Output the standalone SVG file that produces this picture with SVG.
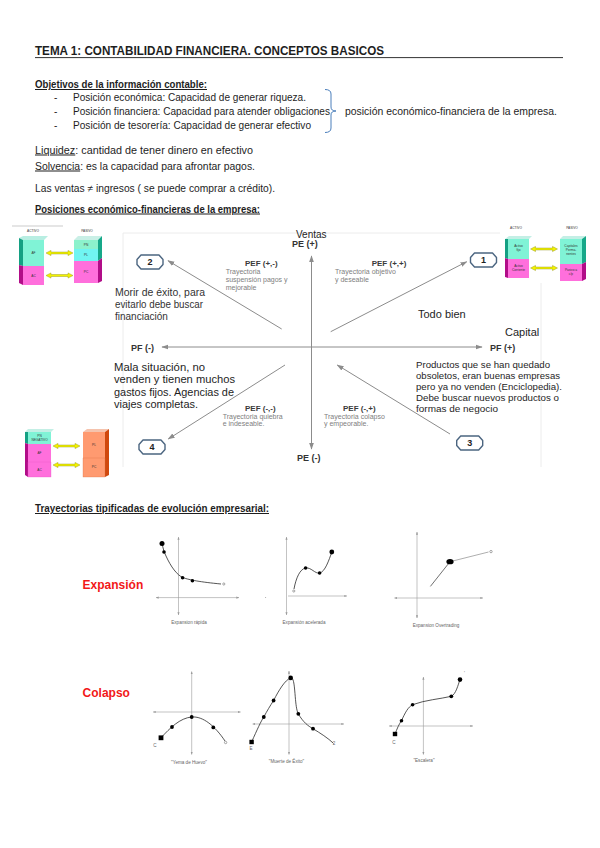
<svg xmlns="http://www.w3.org/2000/svg" width="600" height="848" viewBox="0 0 600 848">
<defs>
<style>
.t{font-family:"Liberation Sans",Arial,sans-serif;fill:#1e1e1e}
.b{font-weight:bold}
.u{text-decoration:underline}
.body{font-size:10px}
.pef{font-size:8px;font-weight:bold;fill:#3a3a3a}
.tray{font-size:7px;fill:#808080}
.ax{font-size:9px;font-weight:bold;fill:#333}
.big{font-size:10px;fill:#333}
.red{font-size:12px;font-weight:bold;fill:#f21818}
.tiny{font-size:4.6px;fill:#666;text-anchor:middle}
.mini{font-size:3.2px;fill:#333;text-anchor:middle}
.arr{stroke:#8c8c8c;stroke-width:1;fill:none}
.gax{stroke:#9a9a9a;stroke-width:0.6;fill:none}
.cur{stroke:#2a2a2a;stroke-width:0.8;fill:none}
.node{fill:#fff;stroke:#4b6580;stroke-width:1.4;stroke-linejoin:round}
.nl{font-size:9px;font-weight:bold;fill:#222;text-anchor:middle}
.ya{fill:#f2f200;stroke:#8a8a10;stroke-width:0.4}
.frame{stroke:#ececec;stroke-width:1;fill:none}
</style>
<marker id="ah" viewBox="0 0 10 10" refX="9" refY="5" markerWidth="7" markerHeight="7" orient="auto-start-reverse" markerUnits="userSpaceOnUse">
<path d="M0,1.5 L10,5 L0,8.5 Z" fill="#8c8c8c"/>
</marker>
<marker id="sh" viewBox="0 0 10 10" refX="9" refY="5" markerWidth="3" markerHeight="3" orient="auto-start-reverse" markerUnits="userSpaceOnUse">
<path d="M0,1.5 L10,5 L0,8.5 Z" fill="#9a9a9a"/>
</marker>
<path id="oct" d="M-9,-7 H9 L13,-2.5 V2.5 L9,7 H-9 L-13,2.5 V-2.5 Z"/>
<path id="yarrow" d="M0,0 L5,-2.6 V-1 H22 V-2.6 L27,0 L22,2.6 V1 H5 V2.6 Z"/>
</defs>
<rect width="600" height="848" fill="#fff"/>

<g id="header">
<text class="t b" x="35" y="55" font-size="13" textLength="349" lengthAdjust="spacingAndGlyphs">TEMA 1: CONTABILIDAD FINANCIERA. CONCEPTOS BASICOS</text>
<line x1="35" y1="57.6" x2="563" y2="57.6" stroke="#333" stroke-width="1"/>
</g>

<g id="objetivos">
<text class="t b u body" x="35" y="88" textLength="172" lengthAdjust="spacingAndGlyphs">Objetivos de la información contable:</text>
<text class="t body" x="54" y="100.5">-</text>
<text class="t body" x="54" y="114.5">-</text>
<text class="t body" x="54" y="128.5">-</text>
<text class="t body" x="73" y="100.5" textLength="233" lengthAdjust="spacingAndGlyphs">Posición económica: Capacidad de generar riqueza.</text>
<text class="t body" x="73" y="114.5" textLength="257" lengthAdjust="spacingAndGlyphs">Posición financiera: Capacidad para atender obligaciones</text>
<text class="t body" x="73" y="128.5" textLength="238" lengthAdjust="spacingAndGlyphs">Posición de tesorería: Capacidad de generar efectivo</text>
<path d="M325,89.5 Q331,89.5 331,94 V107 Q331,111 336,111 Q331,111 331,115 V128 Q331,132.5 325,132.5" fill="none" stroke="#4a7ebb" stroke-width="1"/>
<text class="t body" x="345" y="114.5" textLength="212" lengthAdjust="spacingAndGlyphs">posición económico-financiera de la empresa.</text>
</g>

<g id="definiciones">
<text class="t body" x="35" y="153.5" textLength="218" lengthAdjust="spacingAndGlyphs"><tspan class="u">Liquidez</tspan>: cantidad de tener dinero en efectivo</text>
<text class="t body" x="35" y="169.5" textLength="220" lengthAdjust="spacingAndGlyphs"><tspan class="u">Solvencia</tspan>: es la capacidad para afrontar pagos.</text>
<text class="t body" x="35" y="191.5" textLength="240" lengthAdjust="spacingAndGlyphs">Las ventas ≠ ingresos ( se puede comprar a crédito).</text>
<text class="t b u body" x="35" y="212.5" textLength="225" lengthAdjust="spacingAndGlyphs">Posiciones económico-financieras de la empresa:</text>
</g>

<g id="frame">
<line class="frame" x1="123" y1="233" x2="500" y2="233"/>
<line class="frame" x1="123" y1="233" x2="123" y2="467"/>
<line class="frame" x1="541" y1="283" x2="541" y2="467"/>
</g>

<g id="axes">
<line class="arr" x1="311.5" y1="449" x2="311.5" y2="256" marker-start="url(#ah)" marker-end="url(#ah)"/>
<line class="arr" x1="162" y1="347" x2="482" y2="347" marker-start="url(#ah)" marker-end="url(#ah)"/>
<text class="t" x="296" y="237.5" font-size="10" fill="#333">Ventas</text>
<text class="t ax" x="292" y="246.5">PE (+)</text>
<text class="t ax" x="297" y="460.5">PE (-)</text>
<text class="t ax" x="131" y="350.8">PF (-)</text>
<text class="t ax" x="490" y="350.5">PF (+)</text>
<text class="t" x="505" y="335.5" font-size="11" fill="#555">Capital</text>
</g>

<g id="connectors">
<line class="arr" x1="281.7" y1="329" x2="168" y2="260.7" marker-end="url(#ah)"/>
<line class="arr" x1="330.7" y1="331.7" x2="466.7" y2="261.7" marker-end="url(#ah)"/>
<line class="arr" x1="285" y1="365" x2="168.3" y2="439" marker-end="url(#ah)"/>
<line class="arr" x1="450" y1="434" x2="337.3" y2="365" marker-end="url(#ah)"/>
</g>

<g id="node-2"><use href="#oct" class="node" x="150" y="262"/><text class="t nl" x="150" y="265.3">2</text></g>
<g id="node-1"><use href="#oct" class="node" x="483.5" y="260"/><text class="t nl" x="483.5" y="263.3">1</text></g>
<g id="node-4"><use href="#oct" class="node" x="152" y="447"/><text class="t nl" x="152" y="450.3">4</text></g>
<g id="node-3"><use href="#oct" class="node" x="469.7" y="443"/><text class="t nl" x="469.7" y="446.3">3</text></g>

<g id="q2-labels">
<text class="t pef" x="245" y="265.5">PEF (+,-)</text>
<text class="t tray" x="225.7" y="273.8">Trayectoria</text>
<text class="t tray" x="225.7" y="281.8">suspensión pagos y</text>
<text class="t tray" x="225.7" y="289.8">mejorable</text>
<text class="t big" x="115" y="296.2" textLength="90" lengthAdjust="spacingAndGlyphs">Morir de éxito, para</text>
<text class="t big" x="115" y="307.9" textLength="88" lengthAdjust="spacingAndGlyphs">evitarlo debe buscar</text>
<text class="t big" x="115" y="319.6">financiación</text>
</g>
<g id="q1-labels">
<text class="t pef" x="371.7" y="265.5">PEF (+,+)</text>
<text class="t tray" x="335" y="273.5">Trayectoria objetivo</text>
<text class="t tray" x="335" y="281.5">y deseable</text>
<text class="t" x="418" y="318" font-size="11" fill="#333">Todo bien</text>
</g>
<g id="q4-labels">
<text class="t" x="114" y="370.7" font-size="11" fill="#333" textLength="91" lengthAdjust="spacingAndGlyphs">Mala situación, no</text>
<text class="t" x="114" y="383.2" font-size="11" fill="#333" textLength="121" lengthAdjust="spacingAndGlyphs">venden y tienen muchos</text>
<text class="t" x="114" y="395.7" font-size="11" fill="#333" textLength="120" lengthAdjust="spacingAndGlyphs">gastos fijos. Agencias de</text>
<text class="t" x="114" y="408.2" font-size="11" fill="#333" textLength="84" lengthAdjust="spacingAndGlyphs">viajes completas.</text>
<text class="t pef" x="245" y="411">PEF (-,-)</text>
<text class="t tray" x="222.7" y="418.5">Trayectoria  quiebra</text>
<text class="t tray" x="222.7" y="425.8">e indeseable.</text>
</g>
<g id="q3-labels">
<text class="t" x="416" y="367.5" font-size="9.5" fill="#333" textLength="134" lengthAdjust="spacingAndGlyphs">Productos que se han quedado</text>
<text class="t" x="416" y="378.6" font-size="9.5" fill="#333" textLength="144" lengthAdjust="spacingAndGlyphs">obsoletos, eran buenas empresas</text>
<text class="t" x="416" y="389.7" font-size="9.5" fill="#333" textLength="146" lengthAdjust="spacingAndGlyphs">pero ya no venden (Enciclopedia).</text>
<text class="t" x="416" y="400.8" font-size="9.5" fill="#333" textLength="143" lengthAdjust="spacingAndGlyphs">Debe buscar nuevos productos o</text>
<text class="t" x="416" y="411.9" font-size="9.5" fill="#333" textLength="82" lengthAdjust="spacingAndGlyphs">formas de negocio</text>
<text class="t pef" x="343" y="411">PEF (-,+)</text>
<text class="t tray" x="324" y="418.5">Trayectoria  colapso</text>
<text class="t tray" x="324" y="425.8">y empeorable.</text>
</g>

<g id="balance-tl">
<line x1="12" y1="226" x2="63" y2="226" stroke="#dcdcdc" stroke-width="1.5"/>
<text class="t mini" x="33" y="232">ACTIVO</text>
<text class="t mini" x="87" y="232">PASIVO</text>
<polygon points="19,238 23,236 48,236 44,240 23,240" fill="#b8eee2"/>
<polygon points="19,238 23,240 23,266 19,265" fill="#14a083"/>
<polygon points="19,265 23,266 23,285 19,283" fill="#b10d88"/>
<rect x="23" y="240" width="21" height="26" fill="#80f3d6"/>
<rect x="23" y="266" width="21" height="19" fill="#ff6fdc"/>
<text class="t mini" x="33.5" y="254">AF</text>
<text class="t mini" x="33.5" y="277">AC</text>
<polygon points="74,240 78,236 102,236 98,240" fill="#c9efe6"/>
<polygon points="98,240 102,236 102,258 98,261" fill="#16a889"/>
<polygon points="98,261 102,258 102,281 98,283" fill="#b10d88"/>
<rect x="74" y="240" width="24" height="9" fill="#8cf2cc"/>
<rect x="74" y="249" width="24" height="12" fill="#70f5f2"/>
<rect x="74" y="261" width="24" height="22" fill="#ff6fdc"/>
<text class="t mini" x="86" y="246">PN</text>
<text class="t mini" x="86" y="256">PL</text>
<text class="t mini" x="86" y="273">PC</text>
<use href="#yarrow" class="ya" x="46" y="253"/>
<use href="#yarrow" class="ya" x="46" y="275.5"/>
</g>

<g id="balance-tr">
<text class="t mini" x="516" y="229">ACTIVO</text>
<text class="t mini" x="572" y="229">PASIVO</text>
<polygon points="505,239 509,236 532,236 529,239" fill="#c3efe5"/>
<polygon points="505,239 508,239 508,259 505,258" fill="#14a083"/>
<polygon points="505,258 508,259 508,278 505,277" fill="#b10d88"/>
<rect x="508" y="239" width="21" height="20" fill="#80f3d6"/>
<rect x="508" y="259" width="21" height="19" fill="#ff6fdc"/>
<text class="t mini" x="518.5" y="247">Activo</text>
<text class="t mini" x="518.5" y="251">fijo</text>
<text class="t mini" x="518.5" y="267">Activo</text>
<text class="t mini" x="518.5" y="271">Corriente</text>
<polygon points="560,239 563,236 586,236 582,239" fill="#c3efe5"/>
<polygon points="582,239 586,236 586,262 582,264" fill="#16a889"/>
<polygon points="582,264 586,262 586,279 582,281" fill="#b10d88"/>
<rect x="560" y="239" width="22" height="25" fill="#80f3d6"/>
<rect x="560" y="264" width="22" height="17" fill="#ff6fdc"/>
<text class="t mini" x="571" y="247">Capitales</text>
<text class="t mini" x="571" y="251">Perma-</text>
<text class="t mini" x="571" y="255">nentes</text>
<text class="t mini" x="571" y="271">Pasivo a</text>
<text class="t mini" x="571" y="275">c/p</text>
<use href="#yarrow" class="ya" x="530.5" y="249"/>
<use href="#yarrow" class="ya" x="530.5" y="268"/>
</g>

<g id="balance-bl">
<polygon points="25,432 28,429 54,429 51,432" fill="#c3efe5"/>
<polygon points="25,432 28,432 28,444 25,443" fill="#14a083"/>
<polygon points="25,443 28,444 28,477 25,475" fill="#b10d88"/>
<rect x="28" y="432" width="23" height="12" fill="#80f3d6"/>
<rect x="28" y="444" width="23" height="18" fill="#ff6fdc"/>
<rect x="28" y="462" width="23" height="15" fill="#ff6fdc" stroke="#e055c0" stroke-width="0.3"/>
<text class="t mini" x="39.5" y="437">PN</text>
<text class="t mini" x="39.5" y="441">NEGATIVO</text>
<text class="t mini" x="39.5" y="454">AF</text>
<text class="t mini" x="39.5" y="471">AC</text>
<polygon points="83,432 87,429 109,429 105,432" fill="#f5c3ad"/>
<polygon points="105,432 109,429 109,475 105,477" fill="#d0490e"/>
<rect x="83" y="432" width="22" height="26" fill="#ff9a70"/>
<rect x="83" y="458" width="22" height="19" fill="#ff9a70" stroke="#d86a40" stroke-width="0.3"/>
<text class="t mini" x="94" y="446">PL</text>
<text class="t mini" x="94" y="468">PC</text>
<use href="#yarrow" class="ya" x="53" y="446"/>
<use href="#yarrow" class="ya" x="53" y="465"/>
</g>

<g id="trayectorias-title">
<text class="t b u body" x="35" y="512" textLength="234" lengthAdjust="spacingAndGlyphs">Trayectorias tipificadas de evolución empresarial:</text>
<text class="t red" x="82.6" y="589">Expansión</text>
<text class="t red" x="82.6" y="697">Colapso</text>
</g>

<g id="graph-expansion-rapida">
<line class="gax" x1="178.5" y1="537" x2="178.5" y2="615" marker-start="url(#sh)" marker-end="url(#sh)"/>
<line class="gax" x1="156" y1="597.6" x2="239" y2="597.6" marker-start="url(#sh)" marker-end="url(#sh)"/>
<path class="cur" d="M162,543.5 C163,548 164,552 166,556 C171,567 177,575 183,577.7 C190,580 200,582 221,584"/>
<circle cx="162" cy="543.5" r="2.5"/><circle cx="164" cy="552" r="1.8"/><circle cx="182.6" cy="577.7" r="1.8"/><circle cx="192.4" cy="580.8" r="1.8"/>
<circle cx="223.8" cy="584" r="1.1" fill="none" stroke="#555" stroke-width="0.5"/>
<text class="t tiny" x="189" y="624">Expansion rápida</text>
</g>

<g id="graph-expansion-acelerada">
<line class="gax" x1="286.5" y1="537" x2="286.5" y2="615" marker-start="url(#sh)" marker-end="url(#sh)"/>
<line class="gax" x1="288" y1="596" x2="347" y2="596" marker-end="url(#sh)"/>
<circle cx="265.6" cy="597.6" r="0.5" fill="#999"/>
<path class="cur" d="M294,589 C296,578 300,569 305.6,568 C311,567 315,574 319.6,573 C325,572 329,560 331.8,552"/>
<circle cx="305.6" cy="568" r="1.8"/><circle cx="319.6" cy="573" r="1.8"/><circle cx="331.8" cy="552" r="2.4"/>
<circle cx="293.8" cy="591" r="1.1" fill="none" stroke="#555" stroke-width="0.5"/>
<text class="t tiny" x="304" y="624">Expansión acelerada</text>
</g>

<g id="graph-expansion-overtrading">
<line class="gax" x1="417" y1="532" x2="417" y2="618" marker-start="url(#sh)" marker-end="url(#sh)"/>
<line class="gax" x1="394.5" y1="598" x2="483" y2="598" marker-start="url(#sh)" marker-end="url(#sh)"/>
<line x1="430.4" y1="586.4" x2="450" y2="561.7" stroke="#333" stroke-width="0.7"/>
<line x1="450" y1="561.7" x2="488.5" y2="552" stroke="#777" stroke-width="0.6"/>
<ellipse cx="450" cy="561.7" rx="3.6" ry="2.6"/>
<circle cx="491" cy="551.6" r="1.2" fill="none" stroke="#555" stroke-width="0.5"/>
<text class="t tiny" x="436" y="627">Expansion Overtrading</text>
</g>

<g id="graph-yema-de-huevo">
<line class="gax" x1="191.7" y1="671.6" x2="191.7" y2="754.5" marker-start="url(#sh)" marker-end="url(#sh)"/>
<line class="gax" x1="153" y1="712" x2="240.5" y2="712" marker-start="url(#sh)" marker-end="url(#sh)"/>
<path class="cur" d="M161,737.8 C170,728 180,718 191.7,717 C203,716 215,726 225,741"/>
<rect x="158.6" y="735.4" width="4.8" height="4.8"/><circle cx="172" cy="727" r="1.9"/><circle cx="191.7" cy="717" r="1.9"/><circle cx="213.3" cy="727.4" r="1.9"/>
<circle cx="225.6" cy="742.5" r="1.2" fill="none" stroke="#555" stroke-width="0.5"/>
<text class="t tiny" x="155" y="746.5">C</text>
<text class="t tiny" x="189" y="764">"Yema de Huevo"</text>
</g>

<g id="graph-muerte-de-exito">
<line class="gax" x1="289" y1="671" x2="289" y2="754.5" marker-start="url(#sh)" marker-end="url(#sh)"/>
<line class="gax" x1="252.7" y1="724" x2="344" y2="724" marker-start="url(#sh)" marker-end="url(#sh)"/>
<path class="cur" d="M251.6,742 C257,730 261,721 263.8,717 C267,711 270,706 273.6,700.5 C279,690 285,680 290.7,677.9 C296,676 294,706 298.3,713.8 C303,722 308,726 313,728.7 C320,733 328,738 333.5,743.4"/>
<rect x="249.4" y="739.8" width="4.4" height="4.4"/><circle cx="263.8" cy="717" r="1.9"/><circle cx="273.6" cy="700.5" r="1.9"/><circle cx="290.7" cy="677.9" r="2.3"/><circle cx="298.3" cy="713.8" r="1.9"/><circle cx="313" cy="728.7" r="1.9"/>
<text class="t tiny" x="251" y="749.5">E</text>
<text class="t tiny" x="334" y="745">2</text>
<text class="t tiny" x="286.5" y="763">"Muerte de Éxito"</text>
</g>

<g id="graph-escalera">
<line class="gax" x1="423.4" y1="677" x2="423.4" y2="754.5" marker-start="url(#sh)" marker-end="url(#sh)"/>
<line class="gax" x1="389" y1="726" x2="473" y2="726" marker-start="url(#sh)" marker-end="url(#sh)"/>
<path class="cur" d="M395,734 C397,729 399,724 401.5,720.7 C405,713 408,707 412.6,704.7 C425,700 440,699 451.3,696.3 C456,694 458,685 460,679.6"/>
<rect x="392.8" y="731.8" width="4.4" height="4.4"/><circle cx="401.5" cy="720.7" r="1.8"/><circle cx="412.6" cy="704.7" r="1.8"/><circle cx="451.3" cy="696.3" r="1.9"/><circle cx="460" cy="679.6" r="2.3"/>
<text class="t tiny" x="394" y="743.5">C</text>
<text class="t tiny" x="464.5" y="675">'</text>
<text class="t tiny" x="424" y="762">"Escalera"</text>
</g>
</svg>
